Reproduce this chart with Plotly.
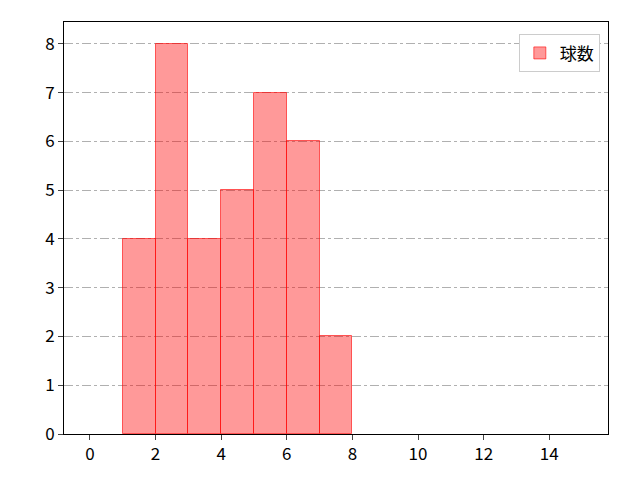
import plotly.graph_objects as go

bin_left = [1, 2, 3, 4, 5, 6, 7]
counts = [4, 8, 4, 5, 7, 6, 2]
x_ticks = [0, 2, 4, 6, 8, 10, 12, 14]
y_ticks = [0, 1, 2, 3, 4, 5, 6, 7, 8]

fig = go.Figure(go.Bar(
    x=[b + 0.5 for b in bin_left], y=counts, width=1, name="球数",
    marker=dict(color="rgba(255,0,0,0.4)", line=dict(color="rgba(255,0,0,0.6)", width=1)),
    showlegend=True,
))
font = "Noto Sans CJK JP"
fig.update_layout(
    width=640, height=480, plot_bgcolor="white", paper_bgcolor="white",
    margin=dict(l=56, r=40, t=14, b=54),
    font=dict(family=font, size=17, color="black"),
    bargap=0,
    legend=dict(x=0.985, y=0.97, xanchor="right", yanchor="top",
                bordercolor="#cccccc", borderwidth=1, font=dict(size=17)),
    xaxis=dict(range=[-0.79, 15.79], tickvals=x_ticks, showgrid=False,
               showline=True, linecolor="black", mirror=True, ticks="outside",
               ticklen=5, zeroline=False),
    yaxis=dict(range=[0, 8.45], tickvals=y_ticks, showgrid=True,
               gridcolor="#b0b0b0", griddash="dashdot", gridwidth=1,
               showline=True, linecolor="black", mirror=True, ticks="outside",
               ticklen=5, zeroline=False),
)
fig.write_html("out.html")
